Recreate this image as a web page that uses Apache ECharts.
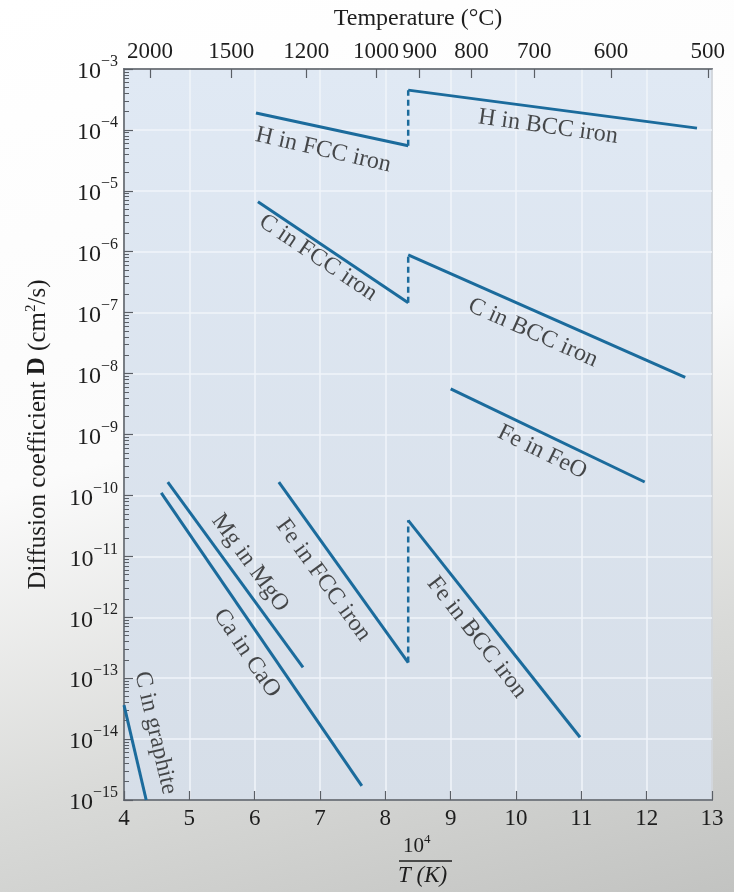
<!DOCTYPE html>
<html>
<head>
<meta charset="utf-8">
<script src="https://cdn.jsdelivr.net/npm/echarts@6/dist/echarts.min.js"></script>
<style>
html,body{margin:0;padding:0;width:734px;height:892px;overflow:hidden;}
body{background:linear-gradient(165deg,#ffffff 0%,#fbfbfb 45%,#d9dad8 75%,#c2c3c1 100%);}
#chart{width:734px;height:892px;}
</style>
</head>
<body>
<div id="chart"></div>
<script>
// ---- data (x = 10^4 / T(K), y = D in cm^2/s) ----
const xTicks = [4, 5, 6, 7, 8, 9, 10, 11, 12, 13];
const tempTicksC = [2000, 1500, 1200, 1000, 900, 800, 700, 600, 500];
const yTicks = [1e-15, 1e-14, 1e-13, 1e-12, 1e-11, 1e-10, 1e-9, 1e-8, 1e-7, 1e-6, 1e-5, 1e-4, 1e-3];

const hFcc      = [[6.02, 1.9e-4], [8.35, 5.5e-5]];
const hJump     = [[8.35, 5.5e-5], [8.35, 4.5e-4]];
const hBcc      = [[8.35, 4.5e-4], [12.77, 1.07e-4]];
const cFcc      = [[6.05, 6.6e-6], [8.35, 1.45e-7]];
const cJump     = [[8.35, 1.45e-7], [8.35, 8.9e-7]];
const cBcc      = [[8.35, 8.9e-7], [12.59, 8.7e-9]];
const feFeO     = [[9.0, 5.6e-9], [11.97, 1.66e-10]];
const mgMgO     = [[4.67, 1.65e-10], [6.74, 1.5e-13]];
const caCaO     = [[4.57, 1.1e-10], [7.64, 1.7e-15]];
const feFcc     = [[6.37, 1.65e-10], [8.35, 1.8e-13]];
const feJump    = [[8.35, 1.8e-13], [8.35, 3.9e-11]];
const feBcc     = [[8.35, 3.9e-11], [10.98, 1.07e-14]];
const cGraphite = [[4.0, 3.6e-14], [4.34, 1e-15]];

// label anchors (data coords) and text angles
const curveLabels = [
  {text: 'H in FCC iron',  x: 7.05,  y: Math.pow(10, -4.33),  angle: -13},
  {text: 'H in BCC iron',  x: 10.49, y: Math.pow(10, -3.95),  angle: -8},
  {text: 'C in FCC iron',  x: 6.97,  y: Math.pow(10, -6.10),  angle: -34},
  {text: 'C in BCC iron',  x: 10.26, y: Math.pow(10, -7.33),  angle: -24},
  {text: 'Fe in FeO',      x: 10.40, y: Math.pow(10, -9.29),  angle: -26},
  {text: 'Mg in MgO',      x: 5.93,  y: Math.pow(10, -11.11), angle: -54},
  {text: 'Ca in CaO',      x: 5.88,  y: Math.pow(10, -12.59), angle: -56},
  {text: 'Fe in FCC iron', x: 7.05,  y: Math.pow(10, -11.39), angle: -54},
  {text: 'Fe in BCC iron', x: 9.40,  y: Math.pow(10, -12.33), angle: -52},
  {text: 'C in graphite',  x: 4.48,  y: Math.pow(10, -13.9),  angle: -77}
];

// ---- styling ----
const FONT = 'Liberation Serif';
const TXT = '#1e1e1e';
const LINE = '#1b6b9c';
const AX = '#5a5f66';

const solid = [hFcc, hBcc, cFcc, cBcc, feFeO, mgMgO, caCaO, feFcc, feBcc, cGraphite];
const dashed = [hJump, cJump, feJump];

const series = [];
solid.forEach(d => series.push({
  type: 'line', data: d, showSymbol: false, symbol: 'none', silent: true,
  lineStyle: {color: LINE, width: 3}, clip: true, z: 3
}));
dashed.forEach(d => series.push({
  type: 'line', data: d, showSymbol: false, symbol: 'none', silent: true,
  lineStyle: {color: LINE, width: 2.5, type: [6, 4]}, z: 3
}));
series.push({
  type: 'scatter', symbolSize: 0, silent: true, z: 4,
  data: curveLabels.map(l => ({
    value: [l.x, l.y],
    label: {
      show: true, position: 'inside', formatter: l.text, rotate: l.angle,
      color: TXT, fontFamily: FONT, fontSize: 24, align: 'center', verticalAlign: 'middle'
    }
  }))
});

const chart = echarts.init(document.getElementById('chart'), null, {renderer: 'canvas'});
chart.setOption({
  animation: false,
  grid: {
    left: 124, right: 22, top: 69, bottom: 92, show: true,
    borderColor: AX, borderWidth: 1.5,
    backgroundColor: {
      type: 'linear', x: 0, y: 0, x2: 0, y2: 1,
      colorStops: [{offset: 0, color: '#e0e9f4'}, {offset: 1, color: '#d6dee8'}]
    }
  },
  xAxis: [
    {
      type: 'value', min: 4, max: 13, interval: 1, position: 'bottom',
      axisLine: {show: true, lineStyle: {color: AX, width: 1.5}},
      axisTick: {show: true, inside: true, length: 9, lineStyle: {color: AX, width: 1.2}},
      axisLabel: {color: TXT, fontFamily: FONT, fontSize: 23, margin: 7,
        customValues: xTicks},
      splitLine: {show: true, lineStyle: {color: '#f1f5fa', width: 1.5}}
    },
    {
      type: 'value', min: 4, max: 13, position: 'top',
      name: 'Temperature (°C)', nameLocation: 'middle', nameGap: 38,
      nameTextStyle: {color: TXT, fontFamily: FONT, fontSize: 24},
      axisLine: {show: true, lineStyle: {color: AX, width: 1.5}},
      axisTick: {show: true, inside: true, length: 9, lineStyle: {color: AX, width: 1.2},
        customValues: tempTicksC.map(c => 1e4 / (c + 273))},
      axisLabel: {color: TXT, fontFamily: FONT, fontSize: 23, margin: 6,
        customValues: tempTicksC.map(c => 1e4 / (c + 273)),
        formatter: v => String(Math.round(1e4 / v - 273))},
      splitLine: {show: false}
    }
  ],
  yAxis: [
    {
      type: 'log', logBase: 10, min: 1e-15, max: 1e-3, interval: 1, splitNumber: 12,
      name: '{a|Diffusion coefficient }{b|D}{a| (cm}{s|2}{a|/s)}',
      nameLocation: 'middle', nameGap: 72,
      nameTextStyle: {
        color: TXT,
        rich: {
          a: {fontFamily: FONT, fontSize: 25, color: TXT, lineHeight: 28},
          b: {fontFamily: FONT, fontSize: 25, fontWeight: 'bold', color: TXT, lineHeight: 28},
          s: {fontFamily: FONT, fontSize: 15, color: TXT, verticalAlign: 'top', lineHeight: 15}
        }
      },
      axisLine: {show: true, lineStyle: {color: AX, width: 1.5}},
      axisTick: {show: true, inside: true, length: 9, lineStyle: {color: AX, width: 1.2},
        customValues: yTicks},
      minorTick: {show: true, splitNumber: 9, length: 5, lineStyle: {color: AX, width: 1}},
      axisLabel: {
        margin: 6,
        customValues: yTicks,
        formatter: v => '{b|10}{s|−' + Math.round(-Math.log10(v)) + '}',
        rich: {
          b: {fontFamily: FONT, fontSize: 24, color: TXT, lineHeight: 30, verticalAlign: 'bottom'},
          s: {fontFamily: FONT, fontSize: 16, color: TXT, verticalAlign: 'top', lineHeight: 16}
        }
      },
      splitLine: {show: true, lineStyle: {color: '#f1f5fa', width: 1.5}}
    }
  ],
  graphic: [
    {type: 'text', left: 403, top: 836, style: {text: '10', font: '21px "Liberation Serif"', fill: TXT}},
    {type: 'text', left: 424, top: 833, style: {text: '4', font: '13px "Liberation Serif"', fill: TXT}},
    {type: 'line', shape: {x1: 399, y1: 861, x2: 452, y2: 861}, style: {stroke: TXT, lineWidth: 1.4}},
    {type: 'text', left: 398, top: 864, style: {text: 'T (K)', font: 'italic 23px "Liberation Serif"', fill: TXT}}
  ],
  series: series
});
</script>
</body>
</html>
